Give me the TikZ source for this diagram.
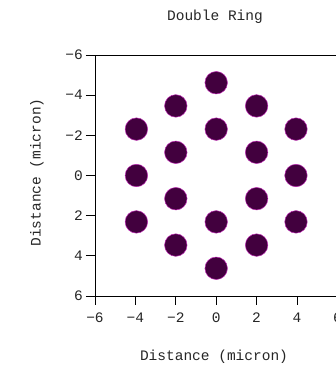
\documentclass[tikz,border=0pt]{standalone}
\usepackage{fontspec}
\setmainfont{Liberation Mono}
\definecolor{dotfill}{RGB}{66,0,62}
\definecolor{dotedge}{RGB}{190,40,180}
\tikzset{
  dot/.style={circle, fill=dotfill, draw=dotedge, line width=0.5pt, minimum size=22.5pt, inner sep=0pt},
  lbl/.style={font=\fontsize{14.5}{16}\selectfont, inner sep=0pt, text=black!85},
  axisline/.style={line width=0.9pt, black},
}
\begin{document}
\begin{tikzpicture}[x=1pt,y=-1pt]
\useasboundingbox (0,0) rectangle (336,368);
\fill[white] (0,0) rectangle (336,368);
% title
\node[lbl] (title) at (215,17) {Double Ring};
% frame
\coordinate (tl) at (95,55);
\coordinate (br) at (337,296);
\draw[axisline] (tl) rectangle (br);
% y ticks
\foreach \v/\t/\n in {-6/−6/ym6,-4/−4/ym4,-2/−2/ym2,0/0/y0,2/2/yp2,4/4/yp4,6/6/yp6}{
  \coordinate (\n t) at (95,175.5+20.08*\v);
  \coordinate (\n s) at (86,175.5+20.08*\v);
  \draw[axisline] (\n s) -- (\n t);
  \node[lbl, anchor=east] (\n) at (83,175.5+20.08*\v) {\t};
}
% x ticks
\foreach \v/\t/\n in {-6/−6/xm6,-4/−4/xm4,-2/−2/xm2,0/0/x0,2/2/xp2,4/4/xp4,6/6/xp6}{
  \coordinate (\n t) at (216.2+20.2*\v,296);
  \coordinate (\n s) at (216.2+20.2*\v,305);
  \draw[axisline] (\n t) -- (\n s);
  \node[lbl] (\n) at (216.2+20.2*\v,318) {\t};
}
% axis labels
\node[lbl] (xlabel) at (214,357) {Distance (micron)};
\node[lbl, rotate=90] (ylabel) at (37,172.5) {Distance (micron)};
% dots (hexagonal double ring)
\begin{scope}[shift={(216.2pt,-175.5pt)}, x=20.2pt, y=-20.08pt]
\foreach \px/\py [count=\i] in {0/-4.62, 0/-2.31, 0/2.31, 0/4.62,
  -2/-3.465, -2/-1.155, -2/1.155, -2/3.465,
  2/-3.465, 2/-1.155, 2/1.155, 2/3.465,
  -3.95/-2.31, -3.95/0, -3.95/2.31,
  3.95/-2.31, 3.95/0, 3.95/2.31}{
  \node[dot] (d\i) at (\px,\py) {};
}
\end{scope}
\end{tikzpicture}
\end{document}
